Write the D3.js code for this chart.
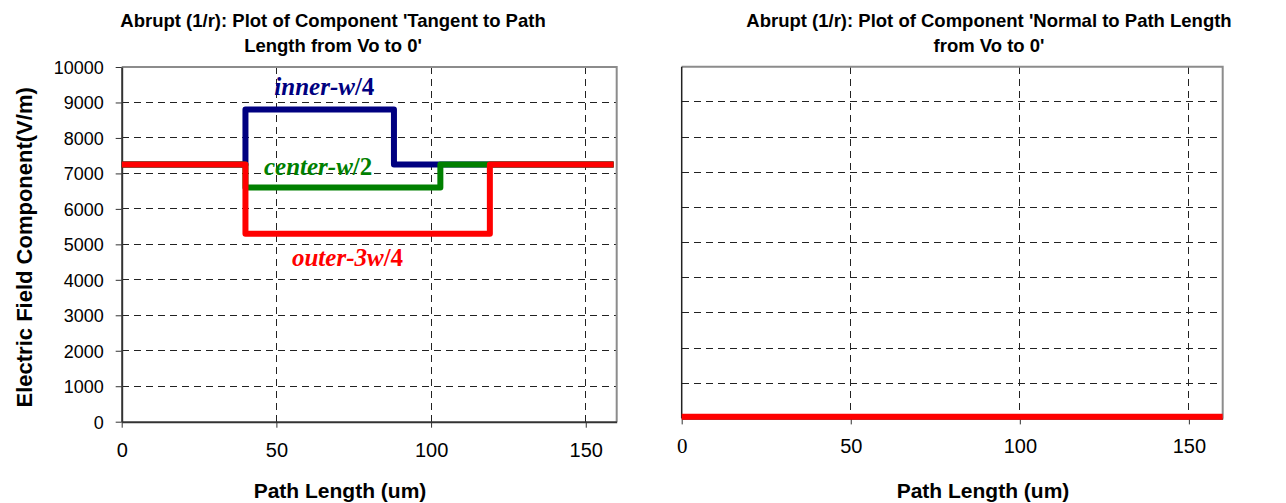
<!DOCTYPE html>
<html>
<head>
<meta charset="utf-8">
<script src="https://cdn.jsdelivr.net/npm/d3@7"></script>
<style>
  html, body { margin: 0; padding: 0; background: #fff; }
  svg { display: block; }
  svg text { font-family: "Liberation Sans", Arial, sans-serif; fill: #000; }
</style>
</head>
<body>
<svg id="chart" width="1286" height="503"></svg>
<script>
// Path length samples (um) and field values (V/m) for each step profile
const xTickValues = [0, 50, 100, 150];
const yTickValues = [0, 1000, 2000, 3000, 4000, 5000, 6000, 7000, 8000, 9000, 10000];

const innerX  = [0, 40, 40, 88, 88, 159];
const innerY  = [7250, 7250, 8800, 8800, 7250, 7250];
const centerX = [0, 40, 40, 103, 103, 159];
const centerY = [7250, 7250, 6600, 6600, 7250, 7250];
const outerX  = [0, 40, 40, 119, 119, 159];
const outerY  = [7250, 7250, 5300, 5300, 7250, 7250];

const normalX = [0, 160];
const normalY = [50, 50];

const seriesNames  = ["inner-w/4", "center-w/2", "outer-3w/4"];
const seriesColors = ["#000080", "#008000", "#ff0000"];

const SERIF = '"Liberation Serif", "Times New Roman", serif';

const svg = d3.select("#chart");

function zip(xs, ys) { return xs.map((x, i) => [x, ys[i]]); }

// Draws one plot panel: gridlines, frame, ticks and returns its scales
function panel(g, left, right, top, bottom, opts) {
  const x = d3.scaleLinear().domain([0, 160]).range([left, right]);
  const y = d3.scaleLinear().domain([0, 10000]).range([bottom, top]);

  // horizontal gridlines
  g.append("g").selectAll("line")
    .data(yTickValues.filter(v => v > 0 && v < 10000))
    .join("line")
    .attr("x1", left).attr("x2", right)
    .attr("y1", d => y(d)).attr("y2", d => y(d))
    .attr("stroke", "#222").attr("stroke-width", 1)
    .attr("stroke-dasharray", "7,5")
    .attr("shape-rendering", "crispEdges");

  // vertical gridlines
  g.append("g").selectAll("line")
    .data(xTickValues.filter(v => v > 0))
    .join("line")
    .attr("x1", d => x(d)).attr("x2", d => x(d))
    .attr("y1", top).attr("y2", bottom)
    .attr("stroke", "#222").attr("stroke-width", 1)
    .attr("stroke-dasharray", "7,5")
    .attr("shape-rendering", "crispEdges");

  // top and right frame
  g.append("path")
    .attr("d", `M${left},${top}H${right}V${bottom}`)
    .attr("fill", "none").attr("stroke", "#8c8c8c").attr("stroke-width", 2);

  // x axis
  const xAxis = d3.axisBottom(x).tickValues(xTickValues).tickSize(6).tickSizeOuter(0)
    .tickFormat(d3.format("d"));
  const gx = g.append("g").attr("transform", `translate(0,${bottom})`).call(xAxis);
  gx.select(".domain").attr("stroke", "#333").attr("stroke-width", opts.axisWidth);
  gx.selectAll(".tick line").attr("stroke", "#333").attr("stroke-width", 1);
  gx.selectAll(".tick text")
    .attr("dy", null).attr("y", 35)
    .style("font-family", d => (opts.serifZero && d === 0) ? SERIF : null)
    .attr("font-size", d => (opts.serifZero && d === 0) ? 21 : 20);

  // y axis
  if (opts.yLabels) {
    const yAxis = d3.axisLeft(y).tickValues(yTickValues).tickSize(6).tickSizeOuter(0)
      .tickFormat(d3.format("d"));
    const gy = g.append("g").attr("transform", `translate(${left},0)`).call(yAxis);
    gy.select(".domain").attr("stroke", "#333").attr("stroke-width", opts.axisWidth);
    gy.selectAll(".tick line").attr("stroke", "#333").attr("stroke-width", 1);
    gy.selectAll(".tick text").attr("font-size", 18).attr("x", -18).attr("dy", "0.35em");
  } else {
    g.append("line")
      .attr("x1", left).attr("x2", left).attr("y1", top).attr("y2", bottom)
      .attr("stroke", "#222").attr("stroke-width", opts.axisWidth);
  }
  g.selectAll(".tick text").attr("fill", "#000");
  g.selectAll(".domain").attr("fill", "none");
  return { x, y };
}

function title(g, cx, lines) {
  const t = g.append("text")
    .attr("text-anchor", "middle")
    .attr("font-weight", "bold")
    .attr("font-size", 18.5);
  lines.forEach((s, i) => {
    t.append("tspan").attr("x", cx).attr("y", 27 + i * 25).text(s);
  });
}

// ---------- left panel: tangent component ----------
const gl = svg.append("g");
const L = panel(gl, 121.7, 616.7, 67, 421.7, { yLabels: true, axisWidth: 2, serifZero: false });

const line = sc => d3.line().x(d => sc.x(d[0])).y(d => sc.y(d[1]));

const leftSeries = [zip(innerX, innerY), zip(centerX, centerY), zip(outerX, outerY)];
gl.append("g").selectAll("path")
  .data(leftSeries)
  .join("path")
  .attr("d", line(L))
  .attr("fill", "none")
  .attr("stroke", (d, i) => seriesColors[i])
  .attr("stroke-width", 6)
  .attr("stroke-linejoin", "round")
  .attr("stroke-linecap", "butt");

// in-plot series labels
const labelSpots = [[65.5, 9220], [63.5, 6960], [73.0, 4400]];
seriesNames.forEach((name, i) => {
  const [lx, ly] = labelSpots[i];
  const cut = name.lastIndexOf("/");
  const t = gl.append("text")
    .attr("x", L.x(lx)).attr("y", L.y(ly))
    .attr("text-anchor", "middle")
    .attr("font-weight", "bold")
    .attr("font-size", 25)
    .style("font-family", SERIF)
    .style("fill", seriesColors[i]);
  t.append("tspan").attr("font-style", "italic").text(name.slice(0, cut));
  t.append("tspan").text(name.slice(cut));
});

title(gl, 333, ["Abrupt (1/r): Plot of Component 'Tangent to Path", "Length from Vo to 0'"]);

gl.append("text")
  .attr("x", 340).attr("y", 498)
  .attr("text-anchor", "middle").attr("font-weight", "bold").attr("font-size", 21)
  .text("Path Length (um)");

gl.append("text")
  .attr("transform", `translate(32,${(67 + 421.7) / 2 + 3}) rotate(-90)`)
  .attr("text-anchor", "middle").attr("font-weight", "bold").attr("font-size", 22)
  .text("Electric Field Component(V/m)");

// ---------- right panel: normal component ----------
const gr = svg.append("g");
const R = panel(gr, 681.7, 1222.7, 66.7, 418.4, { yLabels: false, axisWidth: 1.5, serifZero: true });

gr.append("path")
  .datum(zip(normalX, normalY))
  .attr("d", line(R))
  .attr("fill", "none")
  .attr("stroke", "#ff0000")
  .attr("stroke-width", 6);

title(gr, 989, ["Abrupt (1/r): Plot of Component 'Normal to Path Length", "from Vo to 0'"]);

gr.append("text")
  .attr("x", 983).attr("y", 498)
  .attr("text-anchor", "middle").attr("font-weight", "bold").attr("font-size", 21)
  .text("Path Length (um)");
</script>
</body>
</html>
